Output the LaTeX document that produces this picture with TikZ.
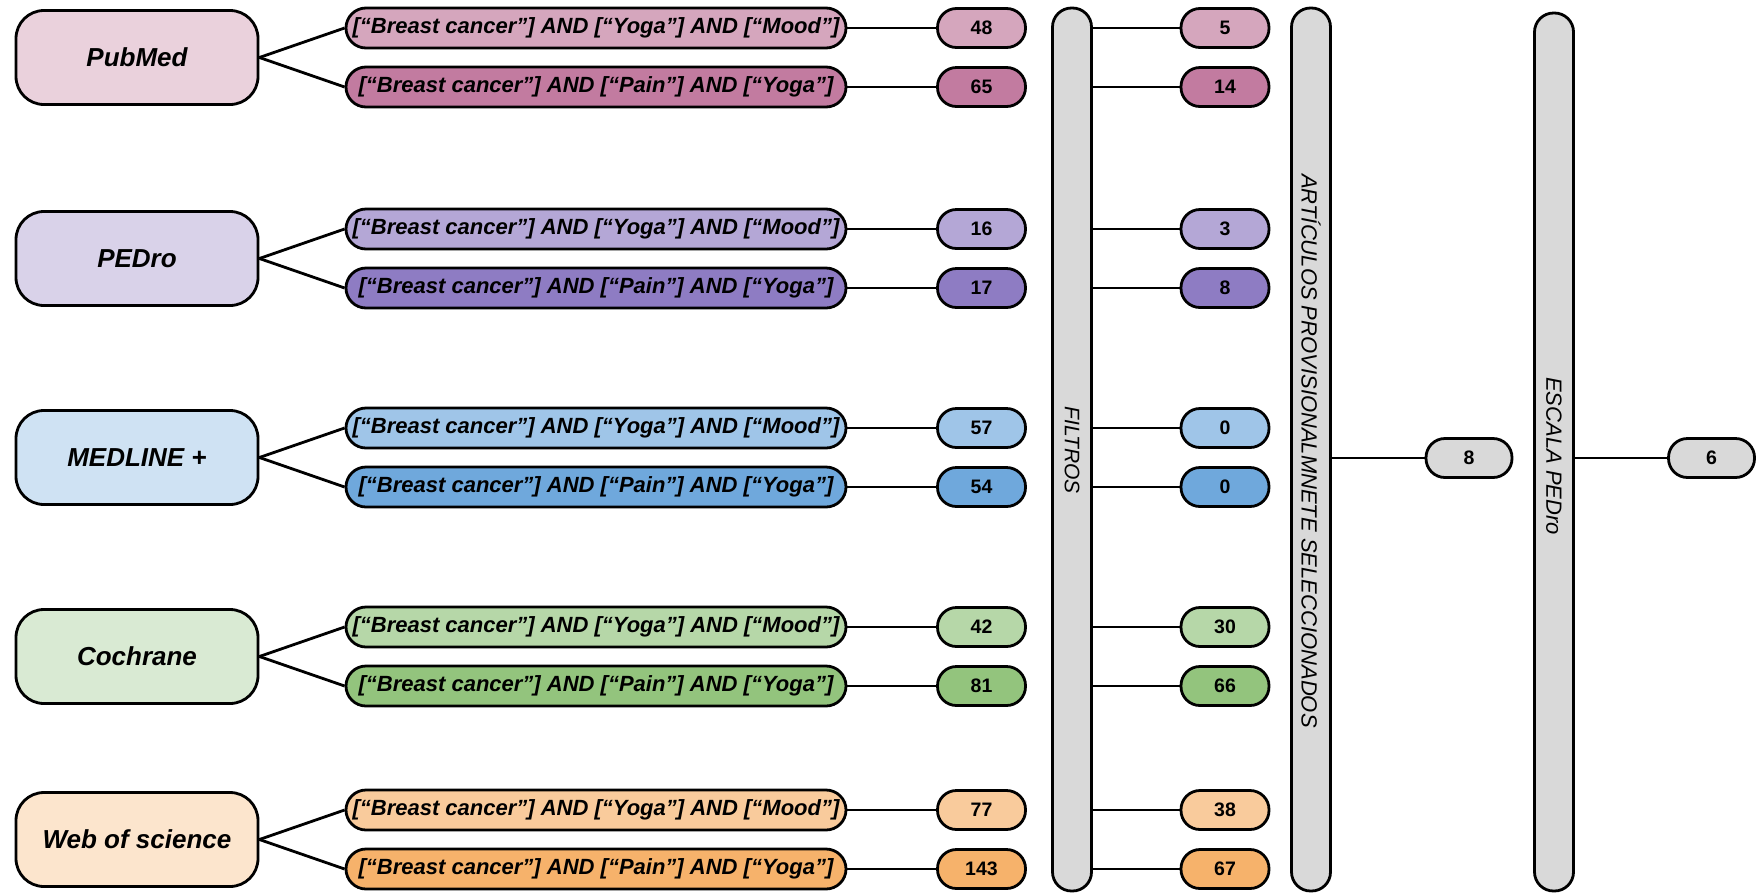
\documentclass[tikz,border=0pt]{standalone}
\usepackage{fontspec}
\setmainfont{Liberation Sans}
\definecolor{pk0}{HTML}{EAD1DC}\definecolor{pk1}{HTML}{D5A6BD}\definecolor{pk2}{HTML}{C27BA0}
\definecolor{pu0}{HTML}{D9D2E9}\definecolor{pu1}{HTML}{B4A7D6}\definecolor{pu2}{HTML}{8E7CC3}
\definecolor{bl0}{HTML}{CFE2F3}\definecolor{bl1}{HTML}{9FC5E8}\definecolor{bl2}{HTML}{6FA8DC}
\definecolor{gr0}{HTML}{D9EAD3}\definecolor{gr1}{HTML}{B6D7A8}\definecolor{gr2}{HTML}{93C47D}
\definecolor{or0}{HTML}{FCE5CD}\definecolor{or1}{HTML}{F9CB9C}\definecolor{or2}{HTML}{F6B26B}
\definecolor{barg}{HTML}{D9D9D9}
\begin{document}
\begin{tikzpicture}[x=1pt,y=-1pt,line width=2.8pt,
 src/.style={draw, rounded corners=28pt, minimum width=242pt, minimum height=94pt, inner sep=0pt, font=\fontsize{26}{30}\selectfont\bfseries\itshape},
 qry/.style={draw, rounded corners=20pt, minimum width=500pt, minimum height=40pt, inner sep=0pt, font=\fontsize{22}{26}\selectfont\bfseries\itshape},
 cnt/.style={draw, rounded corners=19pt, minimum width=88pt, minimum height=39pt, inner sep=0pt, font=\fontsize{19.5}{23}\selectfont\bfseries},
 bar/.style={draw, fill=barg, rounded corners=19pt, minimum width=39pt, inner sep=0pt},
 barlabel/.style={rotate=-90, inner sep=0pt, font=\fontsize{21}{25}\selectfont\itshape}]
\useasboundingbox (0,0) rectangle (1756,895);
% bars
\node[bar, minimum height=883pt] (filtros) at (1072,449.5) {};
\node[barlabel] (filtroslbl) at (1072,450) {FILTROS};
\node[bar, minimum height=883pt] (arts) at (1311,449.5) {};
\node[barlabel, font=\fontsize{22}{26}\selectfont\itshape] (artslbl) at (1311,451) {ARTÍCULOS PROVISIONALMNETE SELECCIONADOS};
\node[bar, minimum height=878pt] (escala) at (1554,452) {};
\node[barlabel, font=\fontsize{22}{26}\selectfont\itshape] (escalalbl) at (1554,456) {ESCALA PEDro};
% final boxes
\node[cnt, fill=barg, minimum width=86pt] (sel) at (1469,458) {8};
\node[cnt, fill=barg, minimum width=86pt] (ped) at (1711.5,458) {6};
\draw (arts.east |- sel.west) -- (sel.west);
\draw (escala.east |- ped.west) -- (ped.west);
% groups
\foreach \n/\name/\y/\cs/\ca/\cb/\qa/\qb/\ra/\rb in {
  pub/PubMed/57.5/pk0/pk1/pk2/48/65/5/14,
  ped/PEDro/258.5/pu0/pu1/pu2/16/17/3/8,
  med/MEDLINE +/457.5/bl0/bl1/bl2/57/54/0/0,
  coc/Cochrane/656.5/gr0/gr1/gr2/42/81/30/66,
  wos/Web of science/839.5/or0/or1/or2/77/143/38/67}{
  \node[src, fill=\cs] (s\n) at (137,\y) {\name};
  \node[qry, fill=\ca] (qa\n) at (596,{\y-29.5}) {[“Breast cancer”] AND [“Yoga”] AND [“Mood”]};
  \node[qry, fill=\cb] (qb\n) at (596,{\y+29.5}) {[“Breast cancer”] AND [“Pain”] AND [“Yoga”]};
  \node[cnt, fill=\ca] (ca\n) at (981.5,{\y-29.5}) {\qa};
  \node[cnt, fill=\cb] (cb\n) at (981.5,{\y+29.5}) {\qb};
  \node[cnt, fill=\ca] (ra\n) at (1225,{\y-29.5}) {\ra};
  \node[cnt, fill=\cb] (rb\n) at (1225,{\y+29.5}) {\rb};
  \draw (s\n.east) -- (qa\n.west);
  \draw (s\n.east) -- (qb\n.west);
  \draw (qa\n.east) -- (ca\n.west);
  \draw (qb\n.east) -- (cb\n.west);
  \draw (filtros.east |- ra\n.west) -- (ra\n.west);
  \draw (filtros.east |- rb\n.west) -- (rb\n.west);
}
\end{tikzpicture}
\end{document}
